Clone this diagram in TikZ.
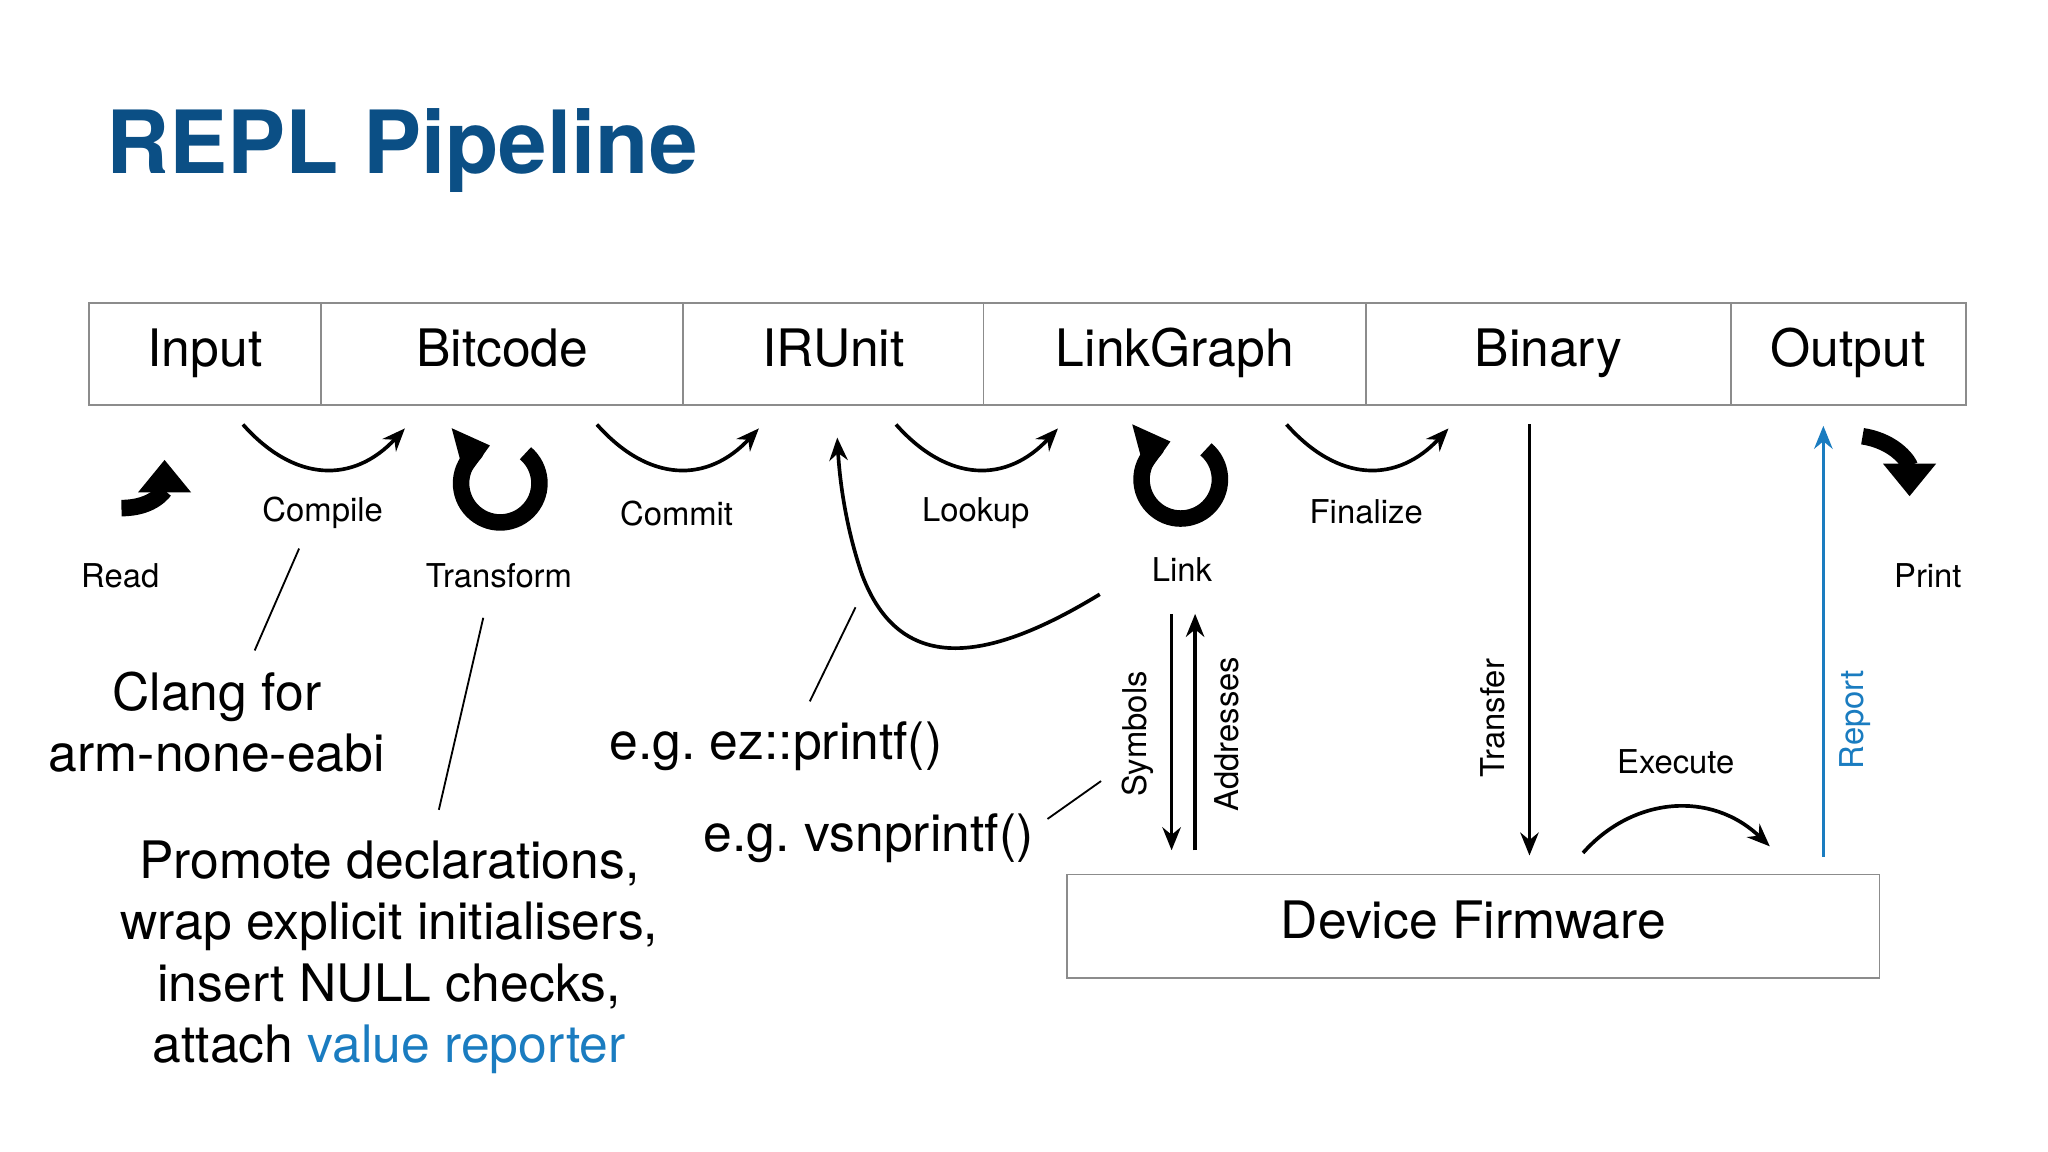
\documentclass[tikz,border=0pt]{standalone}
\usepackage{fontspec}
\setmainfont{TeX Gyre Heros}
\usetikzlibrary{arrows.meta}
\definecolor{titleblue}{HTML}{0B4F85}
\definecolor{repblue}{HTML}{1A7CC0}
\frenchspacing
\begin{document}
\begin{tikzpicture}[x=0.02cm,y=-0.02cm,
  box/.style={draw=black!45,line width=0.8pt,minimum height=78*0.02cm,inner sep=0,text height=16pt,text depth=5pt,font=\fontsize{22.5}{26}\selectfont},
  lab/.style={font=\fontsize{14.3}{17}\selectfont,inner sep=1pt},
  big/.style={font=\fontsize{22.5}{26.6}\selectfont,align=center,inner sep=1pt},
  thin/.style={line width=1.6pt,-{Stealth[length=10pt,width=8pt]}},
  leader/.style={line width=0.8pt},
  thick/.style={line width=7.2pt,-{Triangle[length=0.5cm,width=0.78cm]}}]
\useasboundingbox (0,0) rectangle (1568,882);
\node[anchor=base west,text=titleblue,font=\fontsize{38}{44}\bfseries\selectfont,inner sep=0] (title) at (81,133) {REPL Pipeline};
% top boxes
\node[box,minimum width=178*0.02cm] (in) at (157,271) {Input};
\node[box,minimum width=277*0.02cm] (bc) at (384.5,271) {Bitcode};
\node[box,minimum width=230*0.02cm] (ir) at (638,271) {IRUnit};
\node[box,minimum width=293*0.02cm] (lg) at (899.5,271) {LinkGraph};
\node[box,minimum width=279*0.02cm] (bin) at (1185.5,271) {Binary};
\node[box,minimum width=180*0.02cm] (out) at (1415,271) {Output};
\node[box,minimum width=622*0.02cm,minimum height=79*0.02cm] (fw) at (1128,709) {Device Firmware};
% icons
\draw[thick] (93,389) .. controls (118,389) and (126,375) .. (126,352);
\draw[thick] (1426,334) .. controls (1452,338) and (1462,355) .. (1462,380);
\draw[thick] (383,370) ++(-50:30) arc (-50:255:30);
\draw[thick] (904,367) ++(-50:30) arc (-50:255:30);
% curved stage arrows
\foreach \a/\n in {186/c1,457/c2,686/c3,985/c4}{
  \coordinate (\n s) at (\a,325);
  \coordinate (\n e) at (\a+124,328);
  \draw[thin] (\n s) .. controls (\a+40,370) and (\a+85,370) .. (\n e);
}
\coordinate (ex1) at (1212,653); \coordinate (ex2) at (1355,648);
\draw[thin] (ex1) .. controls (1250,610) and (1310,605) .. (ex2);
\coordinate (lk1) at (842,455); \coordinate (lk2) at (641,335);
\draw[thin] (lk1) .. controls (760,505) and (690,520) .. (660,440) .. controls (648,405) and (643,370) .. (lk2);
% labels
\node[lab] (read) at (92,441) {Read};
\node[lab] (comp) at (247,393) {Compile};
\node[lab] (tr) at (382,441) {Transform};
\node[lab] (com) at (518,393) {Commit};
\node[lab] (look) at (747,393) {Lookup};
\node[lab] (link) at (905,436) {Link};
\node[lab] (fin) at (1046,392) {Finalize};
\node[lab] (exe) at (1283,583) {Execute};
\node[lab] (pr) at (1476,441) {Print};
\node[lab,rotate=90] (sym) at (871,562) {Symbols};
\node[lab,rotate=90] (addr) at (939,562) {Addresses};
\node[lab,rotate=90] (tf) at (1143,550) {Transfer};
\node[lab,rotate=90,text=repblue] (rep) at (1420,551) {Report};
% vertical arrows
\coordinate (s1) at (897,470); \coordinate (s2) at (897,651);
\coordinate (a1) at (915,651); \coordinate (a2) at (915,470);
\coordinate (t1) at (1171,325); \coordinate (t2) at (1171,655);
\coordinate (r1) at (1396,656); \coordinate (r2) at (1396,326);
\draw[thin] (s1) -- (s2);
\draw[thin] (a1) -- (a2);
\draw[thin] (t1) -- (t2);
\draw[thin,draw=repblue,color=repblue] (r1) -- (r2);
% big texts
\node[big] (clang) at (166,553) {Clang for\\arm-none-eabi};
\node[big,anchor=north] (prom) at (298,642) {Promote declarations,\\wrap explicit initialisers,\\insert NULL checks,\\attach \textcolor{repblue}{value reporter}};
\node[big] (ez) at (594,571) {e.g. ez::printf()};
\node[big] (vs) at (665,642) {e.g. vsnprintf()};
% leader lines
\coordinate (l1a) at (229,420); \coordinate (l1b) at (195,498);
\coordinate (l2a) at (370,473); \coordinate (l2b) at (336,620);
\coordinate (l3a) at (655,465); \coordinate (l3b) at (620,537);
\coordinate (l4a) at (843,598); \coordinate (l4b) at (802,627);
\draw[leader] (l1a) -- (l1b);
\draw[leader] (l2a) -- (l2b);
\draw[leader] (l3a) -- (l3b);
\draw[leader] (l4a) -- (l4b);
\end{tikzpicture}
\end{document}
